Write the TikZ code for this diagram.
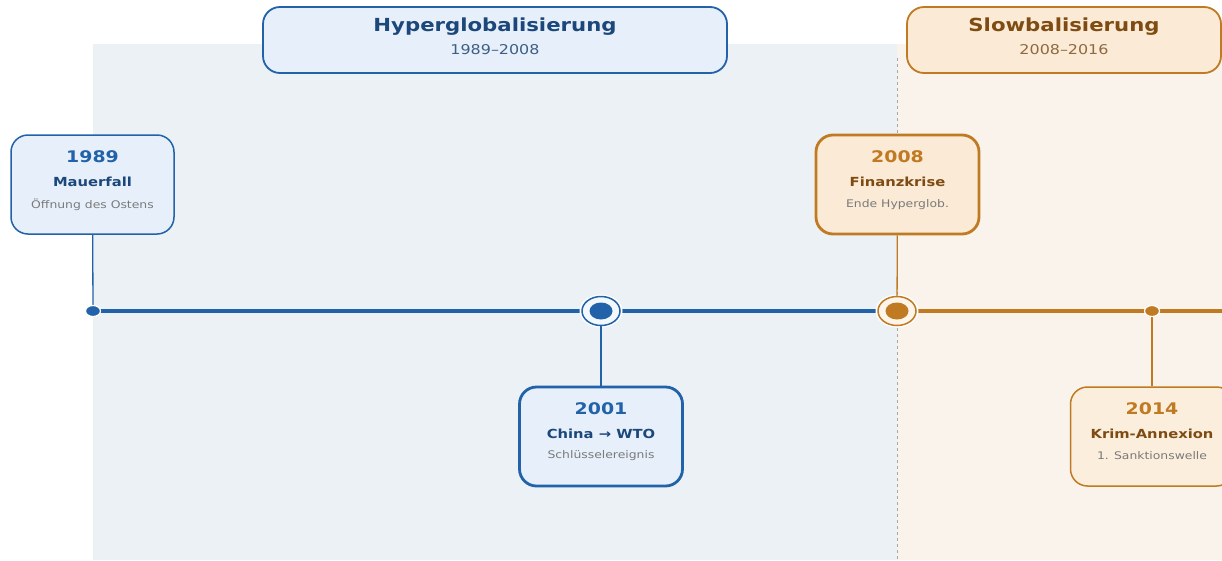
\documentclass[tikz,border=0pt]{standalone}
\usepackage{fontspec}
\setmainfont[FakeStretch=1.18]{DejaVu Sans}
\usetikzlibrary{positioning}
\definecolor{hblue}{HTML}{2162A8}
\definecolor{hbluedark}{HTML}{1B477A}
\definecolor{hbluefill}{HTML}{E7F0FA}
\definecolor{hbluebg}{HTML}{ECF1F6}
\definecolor{hbluesub}{HTML}{3D5F86}
\definecolor{sorange}{HTML}{BF7A22}
\definecolor{sbrown}{HTML}{7E4C13}
\definecolor{sorangefill}{HTML}{FBEAD5}
\definecolor{sorangebg}{HTML}{F9F3EC}
\definecolor{sorangesub}{HTML}{8E6A40}
\definecolor{subgray}{HTML}{7A7A7A}
\begin{document}
\begin{tikzpicture}[x=1pt,y=-1pt,
    phase/.style={draw,rounded corners=17pt,line width=1.8pt,minimum height=66pt},
    event/.style={draw,rounded corners=17pt,line width=1.5pt,minimum width=163pt,minimum height=99pt},
    keyevent/.style={event,line width=2.8pt},
    phasetitle/.style={font=\fontsize{18}{18}\selectfont\bfseries},
    phasesub/.style={font=\fontsize{13.5}{13.5}\selectfont},
    yeartext/.style={font=\fontsize{16}{16}\selectfont\bfseries},
    titletext/.style={font=\fontsize{12.5}{12.5}\selectfont\bfseries},
    subtext/.style={font=\fontsize{10.5}{10.5}\selectfont,text=subgray},
    stem/.style={line width=1.3pt},
  ]
  \useasboundingbox (0,0) rectangle (1222,560);
  % Phase backgrounds
  \fill[hbluebg] (93,44) rectangle (897,560);
  \fill[sorangebg] (897,44) rectangle (1222,560);
  \draw[gray!70,dashed,line width=0.8pt] (897,58) -- (897,560);
  % Phase labels
  \node[phase,hblue,fill=hbluefill,minimum width=464pt] (Hyper) at (495,40) {};
  \node[phasetitle,text=hbluedark] (HyperT) at ([yshift=13.5pt]Hyper.center) {Hyperglobalisierung};
  \node[phasesub,text=hbluesub] (HyperS) at ([yshift=-9.5pt]Hyper.center) {1989–2008};
  \node[phase,sorange,fill=sorangefill,minimum width=314pt] (Slow) at (1064,40) {};
  \node[phasetitle,text=sbrown] (SlowT) at ([yshift=13.5pt]Slow.center) {Slowbalisierung};
  \node[phasesub,text=sorangesub] (SlowS) at ([yshift=-9.5pt]Slow.center) {2008–2016};
  % Timeline points
  \coordinate (D1989) at (93,311);
  \coordinate (D2001) at (601,311);
  \coordinate (D2008) at (897,311);
  \coordinate (D2014) at (1152,311);
  \coordinate (TEnd) at (1222,311);
  \draw[hblue,line width=4pt] (D1989) -- (D2008);
  \draw[sorange,line width=4pt] (D2008) -- (TEnd);
  % Events
  \node[event,hblue,fill=hbluefill] (E1989) at (92.5,184.5) {};
  \node[keyevent,hblue,fill=hbluefill] (E2001) at (601,436.5) {};
  \node[keyevent,sorange,fill=sorangefill] (E2008) at (897.5,184.5) {};
  \node[event,sorange,fill=sorangefill!80!white] (E2014) at (1152,436.5) {};
  % Halos
  \fill[white] (D2001) ellipse [x radius=21.5pt,y radius=16.5pt];
  \fill[white] (D2008) ellipse [x radius=21.5pt,y radius=16.5pt];
  % Stems
  \draw[stem,hblue] (E1989) -- (D1989);
  \draw[stem,hblue] (D2001) -- (E2001);
  \draw[stem,sorange] (E2008) -- (D2008);
  \draw[stem,sorange] (D2014) -- (E2014);
  % Markers
  \fill[hblue,draw=white,line width=1.2pt] (D1989) ellipse [x radius=7.5pt,y radius=5.5pt];
  \fill[sorange,draw=white,line width=1.2pt] (D2014) ellipse [x radius=7.5pt,y radius=5.5pt];
  \draw[hblue,line width=1.5pt,fill=hbluefill!50!white] (D2001) ellipse [x radius=19pt,y radius=14.5pt];
  \fill[hblue] (D2001) ellipse [x radius=11.5pt,y radius=8.5pt];
  \draw[sorange,line width=1.5pt,fill=sorangefill!50!white] (D2008) ellipse [x radius=19pt,y radius=14.5pt];
  \fill[sorange] (D2008) ellipse [x radius=11.5pt,y radius=8.5pt];
  % Event texts
  \node[yeartext,text=hblue] (E1989y) at ([yshift=27.5pt]E1989.center) {1989};
  \node[titletext,text=hbluedark] (E1989t) at ([yshift=2.5pt]E1989.center) {Mauerfall};
  \node[subtext] (E1989s) at ([yshift=-20.5pt]E1989.center) {Öffnung des Ostens};
  \node[yeartext,text=hblue] (E2001y) at ([yshift=27.5pt]E2001.center) {2001};
  \node[titletext,text=hbluedark] (E2001t) at ([yshift=2.5pt]E2001.center) {China → WTO};
  \node[subtext] (E2001s) at ([yshift=-19.5pt]E2001.center) {Schlüsselereignis};
  \node[yeartext,text=sorange] (E2008y) at ([yshift=27.5pt]E2008.center) {2008};
  \node[titletext,text=sbrown] (E2008t) at ([yshift=2.5pt]E2008.center) {Finanzkrise};
  \node[subtext] (E2008s) at ([yshift=-20.5pt]E2008.center) {Ende Hyperglob.};
  \node[yeartext,text=sorange] (E2014y) at ([yshift=27.5pt]E2014.center) {2014};
  \node[titletext,text=sbrown] (E2014t) at ([yshift=2.5pt]E2014.center) {Krim-Annexion};
  \node[subtext] (E2014s) at ([yshift=-19.5pt]E2014.center) {1. Sanktionswelle};
\end{tikzpicture}
\end{document}
